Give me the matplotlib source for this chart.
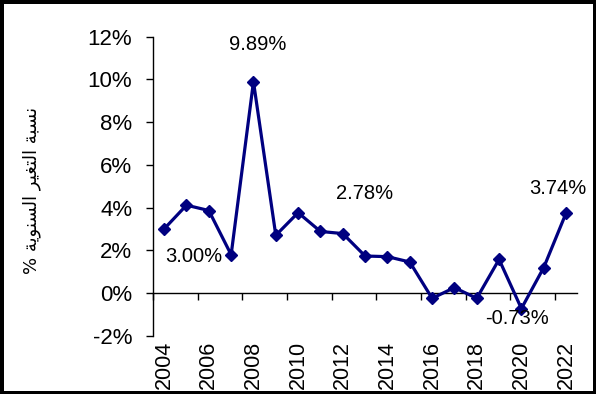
import numpy as np
import matplotlib.pyplot as plt

plt.rcParams['font.family'] = ['Liberation Sans', 'DejaVu Sans']

# data
years = list(range(2004, 2023))
change_pct = [3.00, 4.11, 3.86, 1.79, 9.89, 2.70, 3.76, 2.88, 2.78, 1.73,
              1.70, 1.45, -0.25, 0.25, -0.25, 1.57, -0.73, 1.19, 3.74]
year_labels = [str(y) for y in years[::2]]
y_ticks = [-2, 0, 2, 4, 6, 8, 10, 12]
labelled_years = [2004, 2008, 2012, 2020, 2022]

# offsets (points) of the value labels from their markers
label_offsets = {2004: (21, -20), 2008: (3, 27), 2012: (16, 29),
                 2020: (-3, -7), 2022: (-6, 18)}

# "نسبة التغير السنوية %" pre-shaped (presentation forms), visual order
word1 = '\uFEE7\uFEB4\uFE92\uFE94'
word2 = '\uFE8D\uFEDF\uFE98\uFED0\uFEF4\uFEAE'
word3 = '\uFE8D\uFEDF\uFEB4\uFEE8\uFEEE\uFEF3\uFE94'
ylabel_text = (word1 + ' ' + word2 + ' ' + word3 + ' %')[::-1]

fig = plt.figure(figsize=(5.96, 3.94), dpi=100, facecolor='white',
                 edgecolor='black', linewidth=5)
ax = fig.add_axes([0.2567, 0.148, 0.7118, 0.759])

x = np.arange(len(years))
ax.plot(x, change_pct, color='#000080', lw=2.3, marker='D', ms=6,
        mew=1, clip_on=False, zorder=3)

ax.set_xlim(-0.5, len(years) - 0.5)
ax.set_ylim(-2, 12)

for s in ['top', 'right']:
    ax.spines[s].set_visible(False)
ax.spines['bottom'].set_position(('data', 0))
ax.spines['bottom'].set_linewidth(1)
ax.spines['left'].set_linewidth(1)

ax.set_xticks(np.arange(-0.5, len(years) - 0.5, 2))
ax.tick_params(axis='x', length=5, width=1, direction='out', labelbottom=False)
ax.set_yticks(y_ticks)
ax.set_yticklabels([f'{t}%' for t in y_ticks])
ax.tick_params(axis='y', length=5, width=1, pad=10, labelsize=16)

for i, lab in zip(x[::2], year_labels):
    ax.annotate(lab, xy=(i, 0), xycoords=('data', 'axes fraction'),
                xytext=(0, -4), textcoords='offset points',
                rotation=90, ha='center', va='top', fontsize=15.5)

for yr in labelled_years:
    i = years.index(yr)
    v = change_pct[i]
    ax.annotate(f'{v:.2f}%', xy=(i, v), xytext=label_offsets[yr],
                textcoords='offset points', ha='center', va='center',
                fontsize=14.5, zorder=4)

fig.text(32 / 596, 1 - 190 / 394, ylabel_text, rotation=90, ha='center',
         va='center', fontsize=13, family='DejaVu Sans')

fig.savefig('out.png', dpi=100)
